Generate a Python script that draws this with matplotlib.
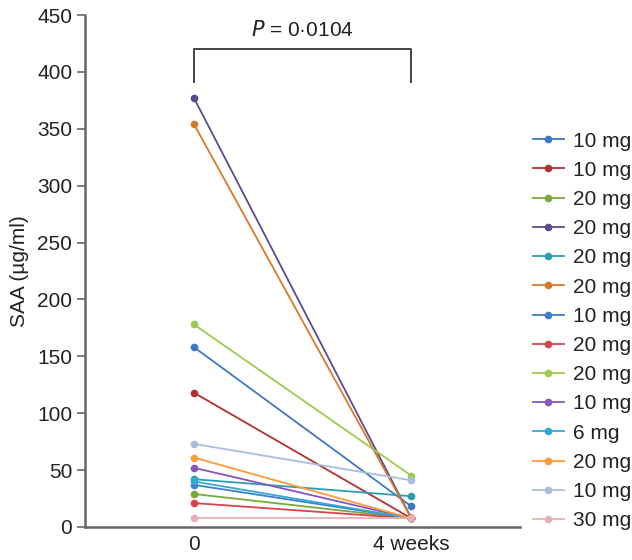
import matplotlib.pyplot as plt

plt.rcParams['font.family'] = ['Liberation Sans', 'DejaVu Sans']

# Datos
tiempos = [0, 1]
etiquetas_x = ['0', '4 weeks']
dosis = ['10 mg', '10 mg', '20 mg', '20 mg', '20 mg', '20 mg', '10 mg',
         '20 mg', '20 mg', '10 mg', '6 mg', '20 mg', '10 mg', '30 mg']
saa_inicio = [158, 118, 29, 377, 42, 354, 37, 21, 178, 52, 40, 61, 73, 7.5]
saa_final = [18, 7.5, 7.5, 7.5, 27, 7.5, 7.5, 7.5, 45, 7.5, 7.5, 7.5, 41, 7.5]
colores = ['#3c78c3', '#b2302f', '#79a83b', '#5d4a8c', '#2a9db0', '#d67a2a',
           '#3f7fca', '#d8434f', '#9ccb4c', '#8754c0', '#36a8d8', '#ff9a3a',
           '#a8bedf', '#e6b0b2']

fig = plt.figure(figsize=(6.32, 5.6), dpi=100)
ax = fig.add_axes([0.135, 0.059, 0.688, 0.914])

for ini, fin, dos, col in zip(saa_inicio, saa_final, dosis, colores):
    ax.plot(tiempos, [ini, fin], color=col, marker='o', markersize=4.5,
            linewidth=1.3, label=dos)

# Corchete con el valor P
ax.plot([0, 0, 1, 1], [391, 420, 420, 391], color='#444444', linewidth=1.4,
        clip_on=False)
ax.text(0.5, 428, '$\\it{P}$ = 0·0104', ha='center', va='bottom', fontsize=15,
        color='#222222')

ax.set_xlim(-0.5, 1.5)
ax.set_ylim(0, 450)
ax.set_yticks(range(0, 451, 50))
ax.set_xticks(tiempos)
ax.set_xticklabels(etiquetas_x)
ax.set_ylabel('SAA (µg/ml)', fontsize=15, labelpad=6, color='#222222')

for lado in ['top', 'right']:
    ax.spines[lado].set_visible(False)
for lado in ['left', 'bottom']:
    ax.spines[lado].set_color('#666666')
    ax.spines[lado].set_linewidth(1.8)
ax.tick_params(axis='y', labelsize=15, length=6, width=1.2, color='#666666',
               labelcolor='#222222')
ax.tick_params(axis='x', labelsize=15, length=0, pad=6, labelcolor='#222222')

leg = ax.legend(loc='center left', bbox_to_anchor=(1.01, 0.383), frameon=False,
                fontsize=15, handlelength=1.5, labelspacing=0.49,
                handletextpad=0.45, borderaxespad=0)
for t in leg.get_texts():
    t.set_color('#222222')

plt.savefig('out.png', dpi=100)
